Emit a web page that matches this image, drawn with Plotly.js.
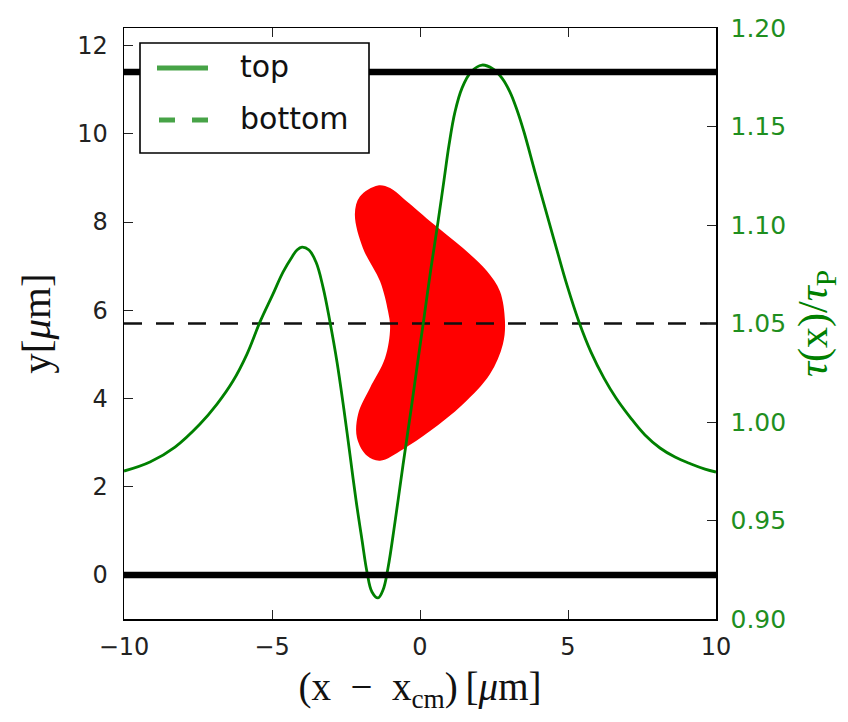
<!DOCTYPE html>
<html>
<head>
<meta charset="utf-8">
<script src="https://cdn.plot.ly/plotly-3.0.1.min.js"></script>
<style>
  html, body { margin: 0; padding: 0; background: #ffffff; }
  #chart { width: 848px; height: 722px; }
</style>
</head>
<body>
<div id="chart"></div>
<script>
// Lifetime ratio tau(x)/tau_P across the channel (right axis)
const tauX = [
  -10.000, -9.122, -8.277, -7.432, -6.858, -6.318, -5.845, -5.405, -4.980, -4.628,
  -4.324, -4.155, -3.986, -3.750, -3.514, -3.277, -3.041, -2.804, -2.568, -2.365,
  -2.162, -1.959, -1.791, -1.622, -1.419, -1.250, -1.081, -0.845, -0.574, -0.304,
  -0.068, 0.135, 0.372, 0.608, 0.811, 0.980, 1.182, 1.419, 1.723, 2.095,
  2.466, 2.770, 3.041, 3.277, 3.514, 3.885, 4.291, 4.662, 4.966, 5.372,
  5.777, 6.216, 6.622, 7.095, 7.601, 8.108, 8.615, 9.155, 9.628, 10.000
];
const tauRatio = [
  0.9751, 0.9797, 0.9873, 0.9990, 1.0091, 1.0208, 1.0345, 1.0508, 1.0645, 1.0761,
  1.0838, 1.0873, 1.0888, 1.0873, 1.0812, 1.0685, 1.0508, 1.0305, 1.0061, 0.9833,
  0.9604, 0.9401, 0.9239, 0.9137, 0.9107, 0.9147, 0.9259, 0.9492, 0.9782, 1.0061,
  1.0315, 1.0528, 1.0782, 1.1015, 1.1228, 1.1406, 1.1574, 1.1695, 1.1777, 1.1812,
  1.1792, 1.1746, 1.1675, 1.1584, 1.1472, 1.1269, 1.1051, 1.0853, 1.0695, 1.0508,
  1.0355, 1.0223, 1.0122, 1.0025, 0.9934, 0.9868, 0.9822, 0.9787, 0.9761, 0.9746
];

// Outline of the cell body (left axis, micrometres)
const cellX = [-1.42, -1.01, -0.57, 0.34, 1.45, 2.26, 2.70, 2.87, 2.80, 2.36,
               1.45, 0.34, -0.57, -1.35, -1.79, -2.13, -2.09, -1.69, -1.18, -1.01,
               -1.08, -1.35, -1.93, -2.20, -2.03, -1.42];
const cellY = [8.83, 8.77, 8.54, 8.02, 7.41, 6.89, 6.43, 5.76, 5.23, 4.55,
               3.87, 3.26, 2.85, 2.59, 2.70, 3.11, 3.65, 4.24, 4.92, 5.60,
               5.98, 6.66, 7.41, 8.18, 8.58, 8.83];

// Channel walls and midline
const wallLevels = [0, 11.4];
const midlineLevel = 5.7;
const xSpan = [-10, 10];

// Axis ticks
const xTicks = [-10, -5, 0, 5, 10];
const yTicks = [0, 2, 4, 6, 8, 10, 12];
const y2Ticks = [0.90, 0.95, 1.00, 1.05, 1.10, 1.15, 1.20];

const legendNames = ['top', 'bottom'];

const GREEN = '#008000';
const LEGEND_GREEN = 'rgba(0,128,0,0.72)';
const TICKFONT = { family: 'DejaVu Sans, sans-serif', size: 24, color: '#222222' };
const SERIF = 'Liberation Serif, DejaVu Serif, serif';

// Plot-area geometry in pixels, used to place the legend box
const PLOT = { left: 124, top: 28, width: 592, height: 591 };
const fx = px => (px - PLOT.left) / PLOT.width;
const fy = py => (PLOT.top + PLOT.height - py) / PLOT.height;

const traces = [
  {
    x: cellX, y: cellY, type: 'scatter', mode: 'lines',
    fill: 'toself', fillcolor: '#ff0000',
    line: { color: '#ff0000', width: 0, shape: 'spline', smoothing: 1.0 },
    showlegend: false, hoverinfo: 'skip'
  },
  {
    x: xSpan, y: [midlineLevel, midlineLevel], type: 'scatter', mode: 'lines',
    line: { color: '#111111', width: 2.4, dash: '18px,14px' },
    showlegend: false, hoverinfo: 'skip'
  },
  {
    x: tauX, y: tauRatio, yaxis: 'y2', type: 'scatter', mode: 'lines',
    name: legendNames[0],
    line: { color: GREEN, width: 2.8, shape: 'spline', smoothing: 1.1 },
    showlegend: false
  }
];

// Walls drawn on top of the curves
const shapes = wallLevels.map(function (lvl) {
  return {
    type: 'line', xref: 'x', yref: 'y', layer: 'above',
    x0: xSpan[0], x1: xSpan[1], y0: lvl, y1: lvl,
    line: { color: '#000000', width: 6.5 }
  };
});

// Legend frame and line samples
shapes.push({
  type: 'rect', xref: 'paper', yref: 'paper', layer: 'above',
  x0: fx(140), x1: fx(369), y0: fy(153), y1: fy(43),
  fillcolor: '#ffffff', line: { color: '#000000', width: 1.6 }
});
shapes.push({
  type: 'line', xref: 'paper', yref: 'paper', layer: 'above',
  x0: fx(157), x1: fx(208), y0: fy(68), y1: fy(68),
  line: { color: LEGEND_GREEN, width: 5 }
});
shapes.push({
  type: 'line', xref: 'paper', yref: 'paper', layer: 'above',
  x0: fx(159), x1: fx(208), y0: fy(120), y1: fy(120),
  line: { color: LEGEND_GREEN, width: 5, dash: '16px,17px' }
});

const annotations = [
  { text: legendNames[0], x: fx(238), y: fy(67), xref: 'paper', yref: 'paper',
    xanchor: 'left', yanchor: 'middle', showarrow: false,
    font: { family: 'DejaVu Sans, sans-serif', size: 30, color: '#111111' } },
  { text: legendNames[1], x: fx(238), y: fy(119), xref: 'paper', yref: 'paper',
    xanchor: 'left', yanchor: 'middle', showarrow: false,
    font: { family: 'DejaVu Sans, sans-serif', size: 30, color: '#111111' } }
];

const layout = {
  width: 848, height: 722,
  margin: { l: 124, r: 132, t: 28, b: 103 },
  paper_bgcolor: '#ffffff', plot_bgcolor: '#ffffff',
  showlegend: false,
  shapes: shapes,
  annotations: annotations,
  xaxis: {
    range: [-10, 10], tickvals: xTicks, tickfont: TICKFONT,
    ticks: 'inside', ticklen: 9, tickwidth: 1, tickcolor: '#222',
    showline: true, linecolor: '#000', linewidth: 1.5, mirror: 'ticks',
    showgrid: false, zeroline: false, ticklabelstandoff: 6,
    title: { text: '(x\u2002−\u2002x<sub>cm</sub>)\u2009[<i>μ</i>m]', font: { family: SERIF, size: 39, color: '#111' }, standoff: 12 }
  },
  yaxis: {
    range: [-1, 12.4], tickvals: yTicks, tickfont: TICKFONT,
    ticks: 'inside', ticklen: 9, tickwidth: 1, tickcolor: '#222',
    showline: true, linecolor: '#000', linewidth: 1.5, mirror: false,
    showgrid: false, zeroline: false, ticklabelstandoff: 10,
    title: { text: 'y[<i>μ</i>m]', font: { family: SERIF, size: 41, color: '#111' }, standoff: 14 }
  },
  yaxis2: {
    overlaying: 'y', side: 'right',
    range: [0.9, 1.2], tickvals: y2Ticks, tickformat: '.2f',
    tickfont: { family: 'DejaVu Sans, sans-serif', size: 25, color: '#1f8f1f' },
    ticks: 'inside', ticklen: 9, tickwidth: 1, tickcolor: '#222',
    showline: true, linecolor: '#000', linewidth: 1.5,
    showgrid: false, zeroline: false, ticklabelstandoff: 8,
    title: { text: '<i>τ</i>(x)/<i>τ</i><sub>P</sub>', font: { family: SERIF, size: 42, color: GREEN }, standoff: 12 }
  }
};

Plotly.newPlot('chart', traces, layout, { staticPlot: true, displayModeBar: false });
</script>
</body>
</html>
